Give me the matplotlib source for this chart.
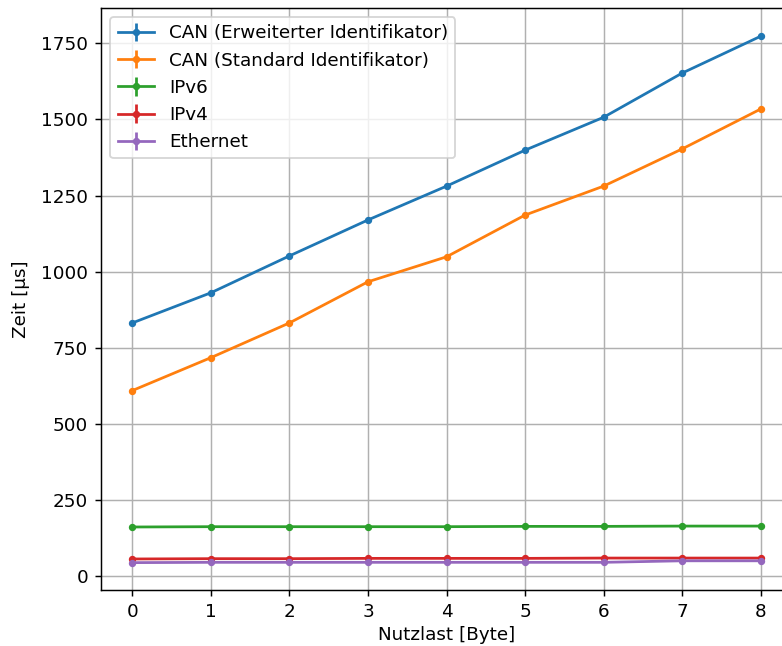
import matplotlib
matplotlib.use("Agg")
import matplotlib.pyplot as plt

nutzlast = [0, 1, 2, 3, 4, 5, 6, 7, 8]

can_ext = [832, 931, 1052, 1170, 1281, 1399, 1507, 1652, 1773]
can_std = [610, 718, 832, 967, 1049, 1186, 1281, 1403, 1534]
ipv6 = [162, 163, 163, 163, 163, 164, 164, 165, 165]
ipv4 = [57, 58, 58, 59, 59, 59, 60, 60, 60]
ethernet = [45, 46, 46, 46, 46, 46, 46, 51, 51]

# kleine Streuung (kaum sichtbar)
err_can_ext = [6, 6, 6, 6, 6, 6, 6, 6, 6]
err_can_std = [6, 6, 6, 6, 6, 6, 6, 6, 6]
err_ip = [3, 3, 3, 3, 3, 3, 3, 3, 3]

series = [
    ("CAN (Erweiterter Identifikator)", can_ext, err_can_ext),
    ("CAN (Standard Identifikator)", can_std, err_can_std),
    ("IPv6", ipv6, err_ip),
    ("IPv4", ipv4, err_ip),
    ("Ethernet", ethernet, err_ip),
]

DPI = 132
fig = plt.figure(figsize=(782 / DPI, 646 / DPI), dpi=DPI)
# rechte Achsenkante liegt wie im Original ausserhalb des Bildes
ax = fig.add_axes([101 / 782, 56 / 646, 691 / 782, 582 / 646])

for label, values, err in series:
    ax.errorbar(nutzlast, values, yerr=err, marker=".", label=label)

ax.set_xlabel("Nutzlast [Byte]", labelpad=3)
ax.set_ylabel("Zeit [µs]", labelpad=6)
ax.set_xticks(nutzlast)
ax.grid(True)
ax.legend(loc="upper left")

fig.savefig("out.png", dpi=DPI)
plt.close(fig)
